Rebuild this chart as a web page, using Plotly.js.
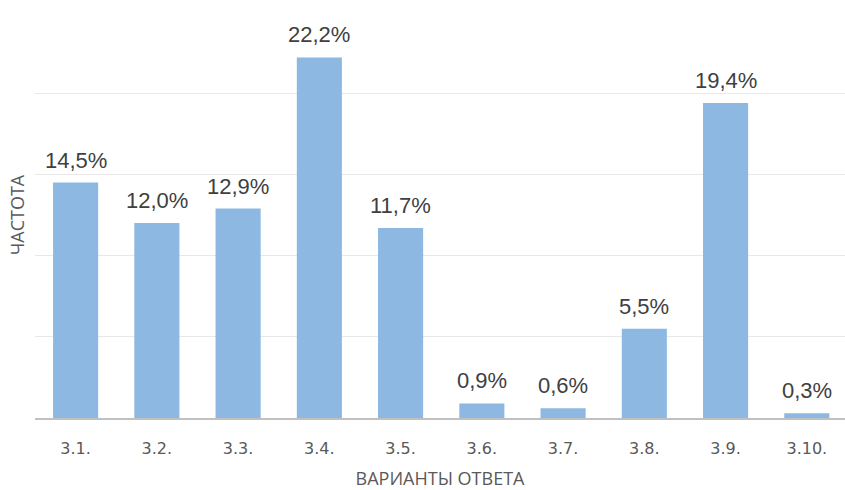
<!DOCTYPE html>
<html><head><meta charset="utf-8">
<script src="https://cdn.plot.ly/plotly-3.0.1.min.js"></script>
<style>html,body{margin:0;padding:0;background:#fff;}#chart{width:845px;height:490px;}</style>
</head><body><div id="chart"></div>
<script>
const categories = ["3.1.","3.2.","3.3.","3.4.","3.5.","3.6.","3.7.","3.8.","3.9.","3.10."];
const values = [14.5,12.0,12.9,22.2,11.7,0.9,0.6,5.5,19.4,0.3];
const labels = values.map(v => v.toFixed(1).replace('.', ',') + '%');

const annotations = categories.map((c, i) => ({
  x: c, y: values[i], xref: 'x', yref: 'y',
  text: labels[i], showarrow: false,
  yanchor: 'bottom', yshift: 8,
  font: {family: 'Liberation Sans Narrow, Arial Narrow, sans-serif', size: 22, color: '#404040'}
}));

Plotly.newPlot('chart', [{
  type: 'bar',
  x: categories,
  y: values,
  marker: {color: '#8CB8E2'},
  hoverinfo: 'none'
}], {
  width: 845, height: 490,
  margin: {l: 35, r: 0, t: 12, b: 72},
  paper_bgcolor: '#fff', plot_bgcolor: '#fff',
  bargap: 0.445,
  showlegend: false,
  annotations: annotations,
  xaxis: {
    type: 'category',
    range: [-0.5, 9.47],
    showline: true, linecolor: '#c0c0c0', linewidth: 2,
    ticks: '', showgrid: false,
    ticklabelstandoff: 15,
    tickfont: {family: 'DejaVu Sans, sans-serif', size: 16, color: '#595959'},
    title: {text: 'ВАРИАНТЫ ОТВЕТА', font: {family: 'Open Sans, sans-serif', size: 18, color: '#595959'}, standoff: 20}
  },
  yaxis: {
    range: [0, 25], dtick: 5,
    showticklabels: false, ticks: '',
    showgrid: true, gridcolor: '#e8e8e8', gridwidth: 1,
    zeroline: false,
    title: {text: 'ЧАСТОТА', font: {family: 'Open Sans, sans-serif', size: 18, color: '#595959'}, standoff: 4}
  }
}, {staticPlot: true});
</script></body></html>
